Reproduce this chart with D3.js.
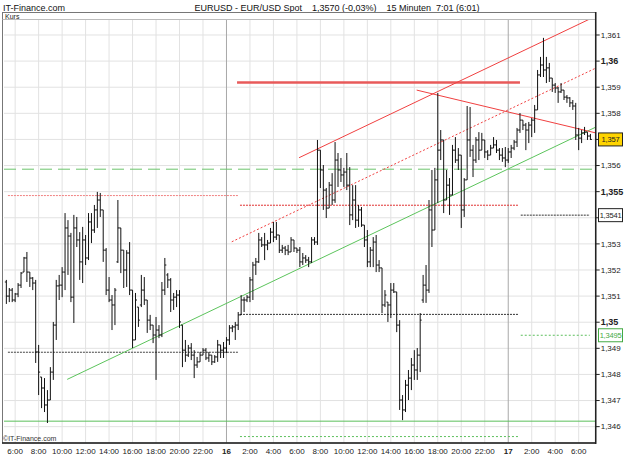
<!DOCTYPE html>
<html>
<head>
<meta charset="utf-8">
<script src="https://cdn.jsdelivr.net/npm/d3@7"></script>
<style>
body { margin: 0; background: #fff; }
text { font-family: "Liberation Sans", Arial, sans-serif; }
</style>
</head>
<body>
<div id="chart"></div>
<script>

// ---- data ----
var firstBar = "2011-03-15T05:15";   // 15 minute bars
var barMinutes = 15;

// open, high, low, close
var bars = [
 [1.35154,1.35162,1.35070,1.35100],[1.35100,1.35131,1.35077,1.35123],[1.35123,1.35131,1.35077,1.35085],[1.35085,1.35112,1.35077,1.35108],
 [1.35108,1.35150,1.35096,1.35142],[1.35142,1.35192,1.35131,1.35188],[1.35192,1.35250,1.35192,1.35246],[1.35246,1.35269,1.35154,1.35192],
 [1.35192,1.35192,1.35135,1.35169],[1.35169,1.35173,1.35123,1.35150],[1.35150,1.35162,1.34844,1.34886],[1.34886,1.34913,1.34721,1.34809],
 [1.34790,1.34790,1.34671,1.34748],[1.34748,1.34786,1.34656,1.34683],[1.34683,1.34740,1.34614,1.34702],[1.34702,1.34828,1.34702,1.34809],
 [1.34809,1.35001,1.34779,1.34989],[1.34989,1.35162,1.34932,1.35139],[1.35139,1.35181,1.35085,1.35142],[1.35142,1.35211,1.35096,1.35192],
 [1.35192,1.35418,1.35123,1.35361],[1.35361,1.35391,1.35181,1.35330],[1.35330,1.35342,1.35077,1.35096],[1.35096,1.35411,1.34997,1.35361],
 [1.35361,1.35403,1.35288,1.35315],[1.35315,1.35345,1.35162,1.35231],[1.35231,1.35365,1.35150,1.35315],[1.35315,1.35334,1.35219,1.35246],
 [1.35246,1.35418,1.35238,1.35384],[1.35384,1.35418,1.35303,1.35353],[1.35353,1.35449,1.35342,1.35430],[1.35430,1.35499,1.35361,1.35468],
 [1.35468,1.35495,1.35403,1.35430],[1.35430,1.35430,1.35231,1.35276],[1.35276,1.35284,1.35104,1.35123],[1.35123,1.35173,1.35077,1.35085],
 [1.35085,1.35104,1.34970,1.35066],[1.35066,1.35131,1.34989,1.35123],[1.35231,1.35468,1.35227,1.35361],[1.35361,1.35361,1.35188,1.35276],
 [1.35276,1.35276,1.35131,1.35200],[1.35200,1.35276,1.35135,1.35265],[1.35265,1.35307,1.35104,1.35123],[1.35123,1.35123,1.34901,1.34932],
 [1.34932,1.35112,1.34932,1.35085],[1.35058,1.35058,1.34982,1.35008],[1.35066,1.35181,1.35058,1.35123],[1.35123,1.35173,1.35066,1.35085],
 [1.35085,1.35085,1.34959,1.35008],[1.35008,1.35028,1.34970,1.34989],[1.34989,1.34989,1.34920,1.34951],[1.34951,1.35020,1.34779,1.34970],
 [1.34970,1.34989,1.34939,1.34951],[1.34951,1.35154,1.34943,1.35123],[1.35123,1.35246,1.35104,1.35219],[1.35181,1.35188,1.35131,1.35162],
 [1.35162,1.35169,1.35039,1.35085],[1.35085,1.35112,1.35047,1.35096],[1.35096,1.35123,1.35058,1.35104],[1.35104,1.35123,1.34978,1.35001],
 [1.34989,1.34989,1.34828,1.34893],[1.34893,1.34932,1.34848,1.34874],[1.34874,1.34913,1.34867,1.34901],[1.34901,1.34920,1.34855,1.34874],
 [1.34874,1.34893,1.34786,1.34836],[1.34836,1.34867,1.34825,1.34848],[1.34848,1.34886,1.34848,1.34874],[1.34874,1.34901,1.34874,1.34893],
 [1.34893,1.34901,1.34855,1.34863],[1.34863,1.34886,1.34848,1.34874],[1.34874,1.34874,1.34836,1.34848],[1.34848,1.34874,1.34844,1.34867],
 [1.34867,1.34932,1.34848,1.34913],[1.34913,1.34913,1.34863,1.34893],[1.34893,1.34924,1.34863,1.34901],[1.34901,1.34943,1.34882,1.34932],
 [1.34932,1.34989,1.34913,1.34978],[1.34978,1.34989,1.34962,1.34982],[1.34982,1.35001,1.34932,1.34989],[1.34989,1.35039,1.34970,1.35028],
 [1.35028,1.35104,1.35028,1.35085],[1.35085,1.35096,1.35039,1.35085],[1.35085,1.35104,1.35077,1.35096],[1.35096,1.35173,1.35077,1.35162],
 [1.35162,1.35231,1.35085,1.35219],[1.35219,1.35246,1.35181,1.35231],[1.35231,1.35342,1.35227,1.35315],[1.35315,1.35326,1.35288,1.35296],
 [1.35296,1.35342,1.35238,1.35296],[1.35296,1.35315,1.35276,1.35303],[1.35303,1.35361,1.35303,1.35345],[1.35345,1.35384,1.35307,1.35326],
 [1.35326,1.35384,1.35315,1.35334],[1.35334,1.35334,1.35265,1.35276],[1.35276,1.35296,1.35265,1.35284],[1.35284,1.35292,1.35257,1.35276],
 [1.35276,1.35296,1.35257,1.35269],[1.35269,1.35326,1.35269,1.35315],[1.35315,1.35315,1.35269,1.35284],[1.35284,1.35284,1.35265,1.35276],
 [1.35276,1.35288,1.35211,1.35231],[1.35231,1.35265,1.35219,1.35246],[1.35246,1.35257,1.35227,1.35238],[1.35238,1.35250,1.35211,1.35231],
 [1.35231,1.35326,1.35227,1.35315],[1.35315,1.35326,1.35296,1.35307],[1.35307,1.35698,1.35296,1.35659],[1.35659,1.35659,1.35514,1.35583],
 [1.35583,1.35602,1.35430,1.35506],[1.35506,1.35514,1.35399,1.35437],[1.35437,1.35537,1.35437,1.35525],[1.35525,1.35571,1.35449,1.35468],
 [1.35468,1.35690,1.35457,1.35621],[1.35621,1.35648,1.35518,1.35583],[1.35583,1.35629,1.35537,1.35564],[1.35564,1.35591,1.35518,1.35575],
 [1.35575,1.35648,1.35506,1.35525],[1.35525,1.35594,1.35372,1.35411],[1.35411,1.35525,1.35391,1.35468],[1.35468,1.35525,1.35361,1.35391],
 [1.35391,1.35449,1.35365,1.35430],[1.35430,1.35441,1.35365,1.35372],[1.35372,1.35372,1.35288,1.35315],[1.35315,1.35353,1.35211,1.35231],
 [1.35231,1.35288,1.35211,1.35276],[1.35276,1.35326,1.35211,1.35307],[1.35307,1.35334,1.35192,1.35219],[1.35219,1.35238,1.35192,1.35208],
 [1.35208,1.35208,1.35035,1.35066],[1.35066,1.35123,1.35058,1.35104],[1.35077,1.35077,1.35001,1.35066],[1.35066,1.35150,1.35016,1.35123],
 [1.35123,1.35150,1.35112,1.35116],[1.35116,1.35116,1.34962,1.34989],[1.34989,1.35008,1.34664,1.34702],[1.34702,1.34721,1.34625,1.34664],
 [1.34664,1.34779,1.34656,1.34759],[1.34759,1.34817,1.34702,1.34786],[1.34786,1.34863,1.34740,1.34836],[1.34836,1.34893,1.34779,1.34817],
 [1.34817,1.34901,1.34779,1.34874],[1.34874,1.35035,1.34809,1.35008],[1.35085,1.35181,1.35074,1.35142],[1.35142,1.35219,1.35074,1.35123],
 [1.35123,1.35468,1.35112,1.35430],[1.35430,1.35583,1.35288,1.35353],[1.35353,1.35591,1.35353,1.35545],[1.35545,1.35878,1.35457,1.35659],
 [1.35659,1.35736,1.35621,1.35698],[1.35698,1.35698,1.35418,1.35468],[1.35468,1.35583,1.35468,1.35525],[1.35525,1.35552,1.35411,1.35487],
 [1.35487,1.35679,1.35487,1.35659],[1.35659,1.35709,1.35610,1.35621],[1.35621,1.35667,1.35583,1.35640],[1.35640,1.35640,1.35361,1.35430],
 [1.35430,1.35552,1.35403,1.35545],[1.35545,1.35828,1.35545,1.35698],[1.35698,1.35824,1.35633,1.35659],[1.35659,1.35679,1.35556,1.35621],
 [1.35621,1.35709,1.35610,1.35698],[1.35698,1.35728,1.35621,1.35659],[1.35659,1.35725,1.35659,1.35698],[1.35698,1.35698,1.35629,1.35652],
 [1.35652,1.35659,1.35621,1.35640],[1.35640,1.35679,1.35640,1.35667],[1.35667,1.35709,1.35667,1.35679],[1.35679,1.35698,1.35648,1.35659],
 [1.35659,1.35667,1.35621,1.35640],[1.35640,1.35667,1.35614,1.35629],[1.35629,1.35671,1.35594,1.35621],[1.35621,1.35667,1.35610,1.35652],
 [1.35652,1.35679,1.35629,1.35667],[1.35667,1.35698,1.35659,1.35690],[1.35690,1.35744,1.35671,1.35736],[1.35736,1.35801,1.35725,1.35774],
 [1.35774,1.35774,1.35736,1.35755],[1.35755,1.35763,1.35659,1.35736],[1.35736,1.35767,1.35686,1.35755],[1.35755,1.35782,1.35709,1.35774],
 [1.35774,1.35832,1.35725,1.35813],[1.35813,1.35966,1.35813,1.35947],[1.35947,1.36016,1.35939,1.35985],[1.35985,1.36089,1.35939,1.35966],
 [1.35966,1.36016,1.35916,1.35974],[1.35974,1.35993,1.35920,1.35935],[1.35935,1.35935,1.35882,1.35908],[1.35908,1.35916,1.35878,1.35897],
 [1.35897,1.35901,1.35840,1.35882],[1.35882,1.35916,1.35878,1.35889],[1.35889,1.35889,1.35851,1.35862],[1.35862,1.35870,1.35840,1.35859],
 [1.35859,1.35862,1.35824,1.35840],[1.35840,1.35851,1.35813,1.35828],[1.35828,1.35840,1.35698,1.35717],[1.35717,1.35744,1.35659,1.35705],
 [1.35705,1.35736,1.35686,1.35725],[1.35725,1.35748,1.35717,1.35728],[1.35728,1.35728,1.35698,1.35713],[1.35713,1.35721,1.35698,1.35700]
];

// price axis ticks
var priceTicks = [1.346,1.347,1.348,1.349,1.35,1.351,1.352,1.353,1.354,1.355,1.356,1.357,1.358,1.359,1.36,1.361];

// drawn trend lines: [time, price] end points
var channelTop    = [["2011-03-16T06:11", 1.35630], ["2011-03-17T07:27", 1.36172]];
var channelMid    = [["2011-03-16T00:27", 1.35308], ["2011-03-17T07:27", 1.35973]];
var channelBottom = [["2011-03-15T10:26", 1.34781], ["2011-03-17T07:27", 1.35747]];
var fallingLine   = [["2011-03-16T16:12", 1.35889], ["2011-03-17T07:27", 1.35725]];
var resistance    = [["2011-03-16T00:54", 1.35918], ["2011-03-17T01:00", 1.35918]];

// horizontal levels: [from, to, price]
var pinkLevel      = ["2011-03-15T05:23", "2011-03-16T00:59", 1.35485];
var blackLevelLeft = ["2011-03-15T05:23", "2011-03-16T00:59", 1.34885];
var redLevelMid    = ["2011-03-16T01:09", "2011-03-17T00:50", 1.35448];
var blackLevelMid  = ["2011-03-16T01:09", "2011-03-17T00:50", 1.35030];
var greenLevelMid  = ["2011-03-16T01:09", "2011-03-17T00:50", 1.34562];
var blackLevelRight= ["2011-03-17T01:04", "2011-03-17T06:57", 1.3541];
var greenLevelRight= ["2011-03-17T01:04", "2011-03-17T06:57", 1.3495];
var greenDashLevel = 1.35586;
var greenSolidLevel = 1.34621;

var lastPrice = 1.3570;

// ---- layout ----
var W = 625, H = 455;
var plot = { left: 4, right: 595.7, top: 20, bottom: 443 };
var parse = d3.timeParse("%Y-%m-%dT%H:%M");

var x = d3.scaleTime()
    .domain([parse("2011-03-15T05:03"), parse("2011-03-17T07:27")])
    .range([plot.left, plot.right]);
var y = d3.scaleLinear()
    .domain([1.345374, 1.361574])
    .range([plot.bottom, plot.top]);

var fmtPrice = function(v, digits) {
    var s = v.toFixed(digits);
    s = s.replace(/0+$/, "").replace(/\.$/, "");
    return s.replace(".", ",");
};

// price tags on the axis hide the tick label under them
var tagPrices = [blackLevelRight[2], greenLevelRight[2], lastPrice];
var hiddenByTag = function(v) {
    return tagPrices.some(function(p) { return Math.abs(y(p) - y(v)) < 8; });
};

var svg = d3.select("#chart").append("svg")
    .attr("width", W).attr("height", H);

svg.append("rect").attr("width", W).attr("height", H).attr("fill", "#fff");

svg.append("clipPath").attr("id", "clip")
  .append("rect")
    .attr("x", plot.left).attr("y", plot.top)
    .attr("width", plot.right - plot.left).attr("height", plot.bottom - plot.top);

// header texts
svg.append("text").attr("x", 3).attr("y", 11)
    .style("font-size", "9px").attr("fill", "#111").text("IT-Finance.com");
svg.append("text").attr("x", 337).attr("y", 11).attr("text-anchor", "middle")
    .style("font-size", "9px").attr("fill", "#111").attr("xml:space", "preserve")
    .text("EURUSD - EUR/USD Spot    1,3570 (-0,03%)    15 Minuten  7:01 (6:01)");

// grid
var g = svg.append("g");
var hours = x.ticks(d3.timeHour.every(2));

g.selectAll(".hgrid").data(priceTicks).enter().append("line")
    .attr("x1", plot.left).attr("x2", plot.right)
    .attr("y1", function(d) { return y(d); }).attr("y2", function(d) { return y(d); })
    .attr("stroke", "#e2e2e2").attr("stroke-width", 1);

g.selectAll(".vgrid").data(hours).enter().append("line")
    .attr("x1", function(d) { return x(d); }).attr("x2", function(d) { return x(d); })
    .attr("y1", plot.top).attr("y2", plot.bottom)
    .attr("stroke", function(d) { return d.getHours() == 0 ? "#a8a8a8" : "#e2e2e2"; })
    .attr("stroke-width", 1);

// levels and trend lines
var lines = svg.append("g").attr("clip-path", "url(#clip)");

var drawSeg = function(p, color, width, dash) {
    var l = lines.append("line")
        .attr("x1", x(parse(p[0][0]))).attr("y1", y(p[0][1]))
        .attr("x2", x(parse(p[1][0]))).attr("y2", y(p[1][1]))
        .attr("stroke", color).attr("stroke-width", width);
    if (dash) l.attr("stroke-dasharray", dash);
    return l;
};
var drawLevel = function(lv, color, width, dash) {
    return drawSeg([[lv[0], lv[2]], [lv[1], lv[2]]], color, width, dash);
};

lines.append("line")
    .attr("x1", plot.left).attr("x2", plot.right)
    .attr("y1", y(greenDashLevel)).attr("y2", y(greenDashLevel))
    .attr("stroke", "#6cc46c").attr("stroke-width", 1).attr("stroke-dasharray", "12,6");
lines.append("line")
    .attr("x1", plot.left).attr("x2", plot.right)
    .attr("y1", y(greenSolidLevel)).attr("y2", y(greenSolidLevel))
    .attr("stroke", "#5cbf5c").attr("stroke-width", 1);

drawLevel(pinkLevel, "#f08080", 1, "2,1");
drawLevel(blackLevelLeft, "#444", 1, "2,1");
drawLevel(redLevelMid, "#e03030", 1, "2,1");
drawLevel(blackLevelMid, "#333", 1, "2,1");
drawLevel(greenLevelMid, "#5cbf5c", 1, "2,2");
drawLevel(blackLevelRight, "#333", 1, "2,1");
drawLevel(greenLevelRight, "#5cbf5c", 1, "2,2");

drawSeg(resistance, "#e85a5a", 2.5);
drawSeg(channelBottom, "#5cc45c", 1);
drawSeg(channelMid, "#f04040", 1, "2,2");
drawSeg(channelTop, "#f04040", 1);
drawSeg(fallingLine, "#f04040", 1);

// OHLC bars
var t0 = parse(firstBar);
var barTime = function(i) { return d3.timeMinute.offset(t0, i * barMinutes); };
var ohlc = svg.append("g").attr("stroke", "#111").attr("stroke-width", 1);

bars.forEach(function(b, i) {
    var bx = x(barTime(i));
    ohlc.append("line").attr("x1", bx).attr("x2", bx)
        .attr("y1", y(b[1])).attr("y2", y(b[2]));
    ohlc.append("line").attr("x1", bx - 1.5).attr("x2", bx)
        .attr("y1", y(b[0])).attr("y2", y(b[0]));
    ohlc.append("line").attr("x1", bx).attr("x2", bx + 1.5)
        .attr("y1", y(b[3])).attr("y2", y(b[3]));
});

// frame
svg.append("rect")
    .attr("x", 2.5).attr("y", 12.5).attr("width", plot.right - 2.5).attr("height", plot.bottom - 12.5)
    .attr("fill", "none").attr("stroke", "#777").attr("stroke-width", 1);
svg.append("line").attr("x1", 2.5).attr("x2", plot.right).attr("y1", 19.5).attr("y2", 19.5)
    .attr("stroke", "#bbb");
svg.append("line").attr("x1", plot.right).attr("x2", plot.right).attr("y1", 12).attr("y2", plot.bottom + 1)
    .attr("stroke", "#222").attr("stroke-width", 1.5);
svg.append("line").attr("x1", 2).attr("x2", plot.right).attr("y1", plot.bottom).attr("y2", plot.bottom)
    .attr("stroke", "#222").attr("stroke-width", 1.5);
svg.append("text").attr("x", 5).attr("y", 18.5).style("font-size", "7px").attr("fill", "#222").text("Kurs");
svg.append("text").attr("x", 3).attr("y", 441).style("font-size", "7px").attr("fill", "#333").text("\u00a9IT-Finance.com");

// price axis (right)
var yAxis = svg.append("g");
var yt = yAxis.selectAll(".ytick").data(priceTicks).enter().append("g")
    .attr("transform", function(d) { return "translate(" + plot.right + "," + y(d) + ")"; });
yt.append("line").attr("x1", 0).attr("x2", 4).attr("stroke", "#222");
yt.filter(function(d) { return !hiddenByTag(d); })
  .append("text").attr("x", 5).attr("dy", "0.35em")
    .style("font-size", function(d) { return Math.round(d * 1000) % 5 == 0 ? "9px" : "8px"; })
    .style("font-weight", function(d) { return Math.round(d * 1000) % 5 == 0 ? "bold" : "normal"; })
    .attr("fill", "#222")
    .text(function(d) { return fmtPrice(d, 3); });

// time axis
svg.selectAll(".xlab").data(hours).enter().append("text")
    .attr("x", function(d) { return x(d); }).attr("y", 454)
    .attr("text-anchor", "middle")
    .style("font-size", "8px")
    .style("font-weight", function(d) { return d.getHours() == 0 ? "bold" : "normal"; })
    .attr("fill", "#222")
    .text(function(d) { return d.getHours() == 0 ? d3.timeFormat("%d")(d) : d.getHours() + ":00"; });

// price tags
var tag = function(price, label, fill, stroke, color) {
    var b = svg.append("g").attr("transform", "translate(598," + y(price) + ")");
    b.append("rect").attr("x", 0.5).attr("y", -6.5).attr("width", 24).attr("height", 13)
        .attr("fill", fill).attr("stroke", stroke);
    b.append("text").attr("x", 12.5).attr("dy", "0.35em").attr("text-anchor", "middle")
        .style("font-size", "7.5px").style("letter-spacing", "-0.2px")
        .attr("fill", color).text(label);
};
tag(blackLevelRight[2], fmtPrice(blackLevelRight[2], 4), "#fff", "#222", "#222");
tag(greenLevelRight[2], fmtPrice(greenLevelRight[2], 4), "#fff", "#4a4", "#4a4");
tag(lastPrice, fmtPrice(lastPrice, 4), "#ffd400", "#222", "#222");

</script>
</body>
</html>
